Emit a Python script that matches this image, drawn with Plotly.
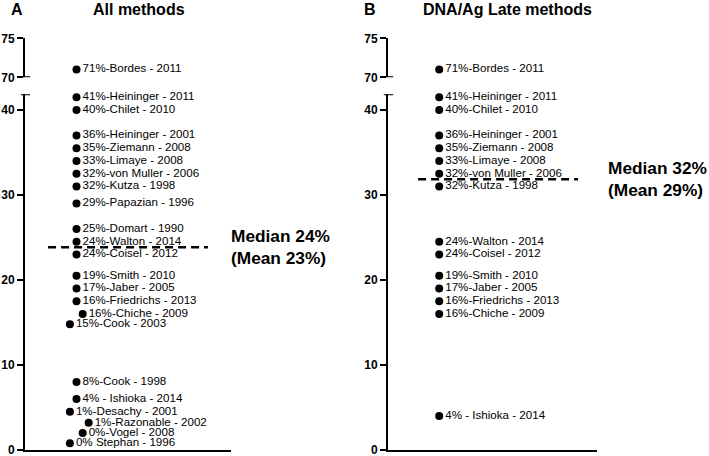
import plotly.graph_objects as go

# ---------------- data ----------------
a_labels = ["71%-Bordes - 2011", "41%-Heininger - 2011", "40%-Chilet - 2010",
            "36%-Heininger - 2001", "35%-Ziemann - 2008", "33%-Limaye - 2008",
            "32%-von Muller - 2006", "32%-Kutza - 1998", "29%-Papazian - 1996",
            "25%-Domart - 1990", "24%-Walton - 2014", "24%-Coisel - 2012",
            "19%-Smith - 2010", "17%-Jaber - 2005", "16%-Friedrichs - 2013",
            "16%-Chiche - 2009", "15%-Cook - 2003", "8%-Cook - 1998",
            "4% - Ishioka - 2014", "1%-Desachy - 2001", "1%-Razonable - 2002",
            "0%-Vogel - 2008", "0% Stephan - 1996"]
a_values = [71, 41.5, 40, 37, 35.5, 34, 32.5, 31, 29, 26, 24.5, 23,
            20.5, 19, 17.5, 16, 14.8, 8, 6, 4.5, 3.2, 2, 0.8]
a_jitter = [0.25, 0.25, 0.25, 0.25, 0.25, 0.25, 0.25, 0.25, 0.25, 0.25, 0.25, 0.25,
            0.25, 0.25, 0.25, 0.28, 0.218, 0.25, 0.25, 0.218, 0.309, 0.28, 0.218]
a_median = 23.85
a_median_text = "Median 24%<br>(Mean 23%)"
a_title = "All methods"

b_labels = ["71%-Bordes - 2011", "41%-Heininger - 2011", "40%-Chilet - 2010",
            "36%-Heininger - 2001", "35%-Ziemann - 2008", "33%-Limaye - 2008",
            "32%-von Muller - 2006", "32%-Kutza - 1998", "24%-Walton - 2014",
            "24%-Coisel - 2012", "19%-Smith - 2010", "17%-Jaber - 2005",
            "16%-Friedrichs - 2013", "16%-Chiche - 2009", "4% - Ishioka - 2014"]
b_values = [71, 41.5, 40, 37, 35.5, 34, 32.5, 31, 24.5, 23, 20.5, 19, 17.5, 16, 4]
b_jitter = [0.245] * len(b_values)
b_median = 31.85
b_median_text = "Median 32%<br>(Mean 29%)"
b_title = "DNA/Ag Late methods"

lower_ticks = [0, 10, 20, 30, 40]
upper_ticks = [70, 75]
lower_range = [0, 41.85]
upper_range = [70, 75]
break_value = 50

FONT = "Liberation Sans, Arial, sans-serif"

fig = go.Figure()


def add_panel(labels, values, jitter, xa, ylow, yup):
    lo = [(x, v, t) for x, v, t in zip(jitter, values, labels) if v < break_value]
    hi = [(x, v, t) for x, v, t in zip(jitter, values, labels) if v >= break_value]
    for grp, ya in ((lo, ylow), (hi, yup)):
        fig.add_trace(go.Scatter(
            x=[g[0] for g in grp], y=[g[1] for g in grp], text=[g[2] for g in grp],
            mode="markers+text", textposition="middle right",
            marker=dict(color="black", size=8),
            textfont=dict(family=FONT, size=11.6, color="black"),
            xaxis=xa, yaxis=ya, cliponaxis=False, showlegend=False, hoverinfo="skip"))


add_panel(a_labels, a_values, a_jitter, "x", "y", "y2")
add_panel(b_labels, b_values, b_jitter, "x2", "y3", "y4")

W, H = 709, 456


def fy(py):
    return (H - py) / H


def fx(px):
    return px / W


lower_dom = [fy(450), fy(94.3)]
upper_dom = [fy(77.3), fy(38.3)]
xa_dom = [fx(25), fx(231)]
xb_dom = [fx(388), fx(597)]

xcommon = dict(range=[0, 1], showline=True, linewidth=2, linecolor="black",
               showgrid=False, zeroline=False, ticks="", showticklabels=False,
               fixedrange=True, automargin=False)
ycommon = dict(showline=True, linewidth=2, linecolor="black", showgrid=False,
               zeroline=False, ticks="outside", ticklen=6, tickwidth=2,
               tickcolor="black", automargin=False, ticklabeloverflow="allow",
               fixedrange=True,
               tickfont=dict(family=FONT, size=12, color="black", weight="bold"))

fig.update_layout(
    template="none",
    width=W, height=H, margin=dict(l=0, r=0, t=0, b=0, autoexpand=False),
    paper_bgcolor="white", plot_bgcolor="white",
    font=dict(family=FONT, color="black"),
    xaxis=dict(domain=xa_dom, anchor="y", **xcommon),
    xaxis2=dict(domain=xb_dom, anchor="y3", **xcommon),
    yaxis=dict(domain=lower_dom, range=lower_range, tickvals=lower_ticks, anchor="x", **ycommon),
    yaxis2=dict(domain=upper_dom, range=upper_range, tickvals=upper_ticks, anchor="x", **ycommon),
    yaxis3=dict(domain=lower_dom, range=lower_range, tickvals=lower_ticks, anchor="x2", **ycommon),
    yaxis4=dict(domain=upper_dom, range=upper_range, tickvals=upper_ticks, anchor="x2", **ycommon),
)

# break caps: top of lower segments and bottom of upper segments
for xr, ylo, yup in (("x domain", "y", "y2"), ("x2 domain", "y3", "y4")):
    fig.add_shape(type="line", xref=xr, yref=ylo, x0=-0.02, x1=0.025,
                  y0=lower_range[1], y1=lower_range[1],
                  line=dict(color="black", width=2))
    fig.add_shape(type="line", xref=xr, yref=yup, x0=-0.02, x1=0.025,
                  y0=upper_range[0], y1=upper_range[0],
                  line=dict(color="black", width=2))

# median lines
fig.add_shape(type="line", xref="x domain", yref="y", x0=0.112, x1=0.888,
              y0=a_median, y1=a_median, line=dict(color="black", width=2.5, dash="8px,5px"))
fig.add_shape(type="line", xref="x2 domain", yref="y3", x0=0.144, x1=0.909,
              y0=b_median, y1=b_median, line=dict(color="black", width=2.5, dash="8px,5px"))

# median annotations
fig.add_annotation(xref="x domain", yref="y", x=0.99, y=a_median, text=a_median_text,
                   showarrow=False, xanchor="left", yanchor="middle", align="left",
                   font=dict(family=FONT, size=17.3, color="black", weight="bold"))
fig.add_annotation(xref="x2 domain", yref="y3", x=1.045, y=b_median, text=b_median_text,
                   showarrow=False, xanchor="left", yanchor="middle", align="left",
                   font=dict(family=FONT, size=17.3, color="black", weight="bold"))

# titles
for txt, px in (("A", 17), ("B", 370)):
    fig.add_annotation(xref="paper", yref="paper", x=fx(px), y=fy(9.5), text=txt,
                       showarrow=False, xanchor="center", yanchor="middle",
                       font=dict(family=FONT, size=16, color="black", weight="bold"))
fig.add_annotation(xref="paper", yref="paper", x=fx(139), y=fy(9.5), text=a_title,
                   showarrow=False, xanchor="center", yanchor="middle",
                   font=dict(family=FONT, size=16, color="black", weight="bold"))
fig.add_annotation(xref="paper", yref="paper", x=fx(507), y=fy(9.5), text=b_title,
                   showarrow=False, xanchor="center", yanchor="middle",
                   font=dict(family=FONT, size=16, color="black", weight="bold"))

fig.write_html(
    "out.html",
    config={"displayModeBar": False, "staticPlot": True},
    post_script="document.body.style.margin='0';document.body.style.padding='0';"
                "document.body.style.overflow='hidden';",
)
